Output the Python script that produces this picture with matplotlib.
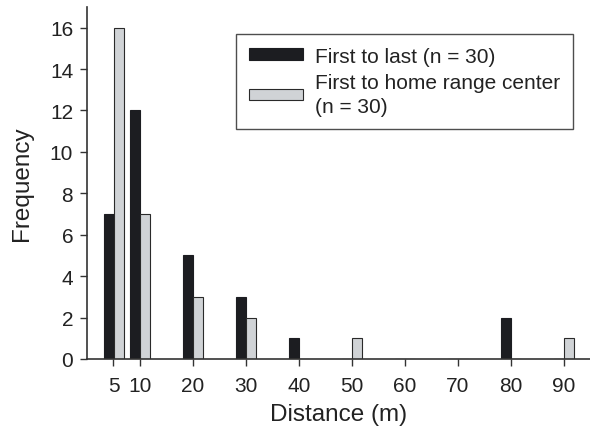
import numpy as np
import matplotlib.pyplot as plt

plt.rcParams['font.family'] = ['Liberation Sans', 'DejaVu Sans']

# distance classes (m) and counts per class
distances = [5, 10, 20, 30, 40, 50, 60, 70, 80, 90]
first_to_last = [7, 12, 5, 3, 1, 0, 0, 0, 2, 0]
first_to_center = [16, 7, 3, 2, 0, 1, 0, 0, 0, 1]
xticks = [5, 10, 20, 30, 40, 50, 60, 70, 80, 90]
yticks = [0, 2, 4, 6, 8, 10, 12, 14, 16]

fig = plt.figure(figsize=(5.9, 4.39), dpi=100)
ax = fig.add_axes([0.1475, 0.18, 0.8525, 0.802])

x = np.array(distances, dtype=float)
ax.bar(x - 1.8, first_to_last, width=1.9, align='edge', color='#1c1d21',
       edgecolor='#1c1d21', linewidth=0.8, label='First to last (n = 30)')
ax.bar(x + 0.1, first_to_center, width=1.8, align='edge', color='#d0d3d6',
       edgecolor='#2a2a2a', linewidth=0.8,
       label='First to home range center\n(n = 30)')

ax.set_xlim(0, 95)
ax.set_ylim(0, 17)
ax.set_xticks(xticks)
ax.set_yticks(yticks)
ax.tick_params(direction='out', length=5, width=1, labelsize=15,
               color='#333333', labelcolor='#222222')
ax.tick_params(axis='x', pad=7)
ax.tick_params(axis='y', pad=5)

for side in ['top', 'right']:
    ax.spines[side].set_visible(False)
for side in ['left', 'bottom']:
    ax.spines[side].set_color('#333333')
    ax.spines[side].set_linewidth(1.2)

ax.set_xlabel('Distance (m)', fontsize=17.5, color='#222222', labelpad=6)
ax.set_ylabel('Frequency', fontsize=17.5, color='#222222', labelpad=12)

leg = ax.legend(loc='upper right', bbox_to_anchor=(0.966, 0.923), fontsize=15,
                frameon=True, fancybox=False, edgecolor='#222222',
                handlelength=2.6, handleheight=0.5, handletextpad=0.6,
                labelspacing=0.35, borderpad=0.6, borderaxespad=0.0)
leg.get_frame().set_linewidth(1.0)
for t in leg.get_texts():
    t.set_color('#222222')
    t.set_linespacing(1.35)

fig.savefig('out.png', dpi=100)
